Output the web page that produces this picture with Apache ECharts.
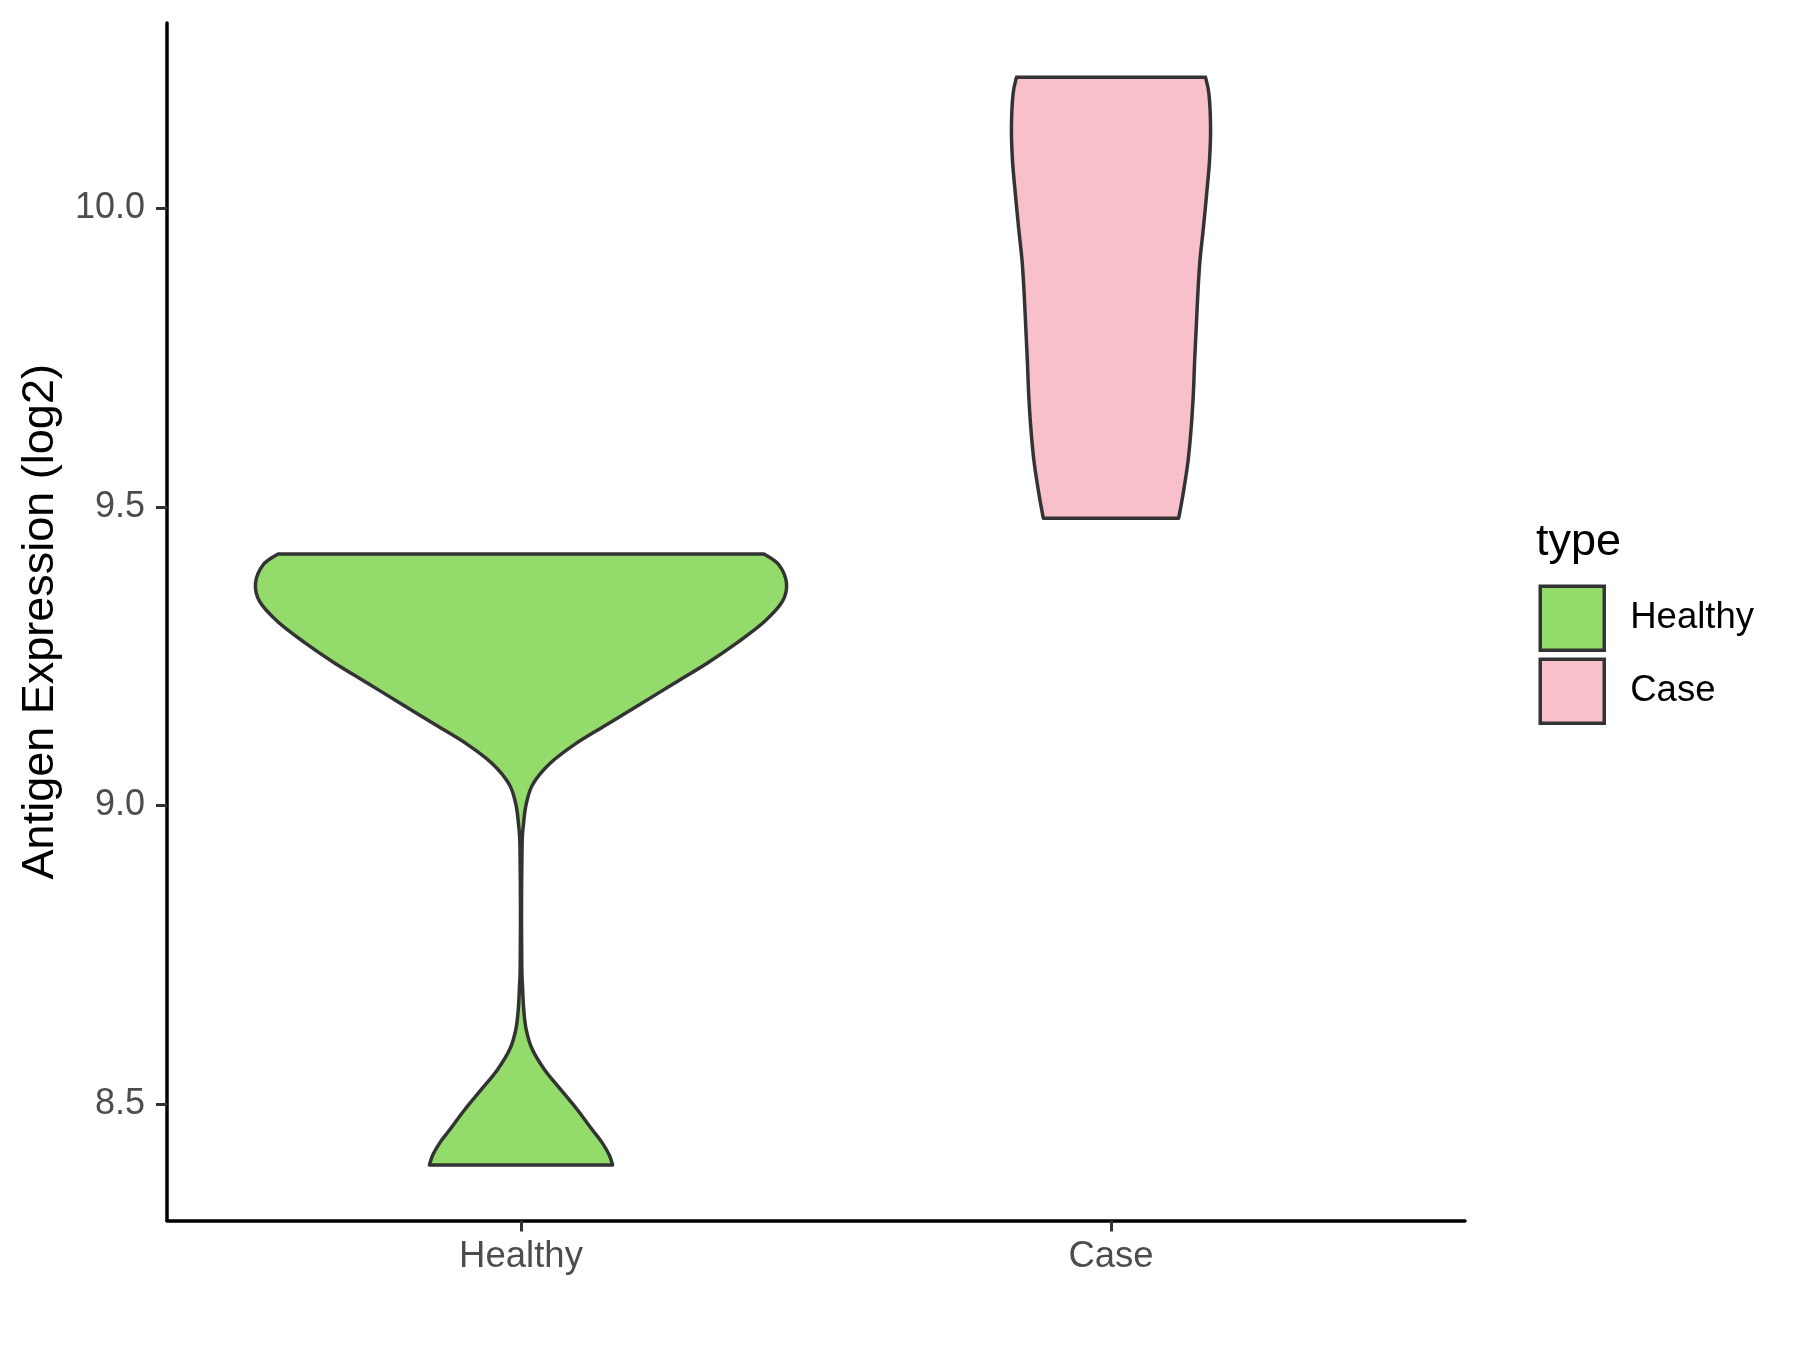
<!DOCTYPE html>
<html>
<head>
<meta charset="utf-8">
<script src="https://cdn.jsdelivr.net/npm/echarts@6/dist/echarts.min.js"></script>
<style>
html,body{margin:0;padding:0;background:#fff;}
#chart{width:1800px;height:1350px;}
</style>
</head>
<body>
<div id="chart"></div>
<script>
// ---- data ----
const categories = ['Healthy', 'Case'];
const yTicks = [8.5, 9.0, 9.5, 10.0];

// violin outline: expression value and relative half-width (1 = widest violin)
const healthyY = [9.421, 9.403, 9.372, 9.341, 9.307, 9.273, 9.239, 9.205, 9.171, 9.137, 9.103, 9.069, 9.035, 9.001, 8.967, 8.933, 8.830, 8.728, 8.694, 8.660, 8.626, 8.592, 8.558, 8.524, 8.490, 8.456, 8.435, 8.415, 8.398];
const healthyDensity = [0.915, 0.971, 1.000, 0.984, 0.915, 0.816, 0.704, 0.579, 0.455, 0.330, 0.205, 0.106, 0.044, 0.019, 0.009, 0.004, 0.002, 0.003, 0.006, 0.010, 0.019, 0.042, 0.088, 0.150, 0.213, 0.270, 0.306, 0.332, 0.345];

const caseY = [10.219, 10.191, 10.135, 10.079, 10.023, 9.967, 9.912, 9.856, 9.800, 9.744, 9.688, 9.632, 9.576, 9.520, 9.481];
const caseDensity = [0.356, 0.369, 0.375, 0.371, 0.360, 0.348, 0.335, 0.327, 0.321, 0.315, 0.310, 0.302, 0.290, 0.271, 0.255];

// ---- styles ----
const fills = { Healthy: '#93DB6A', Case: '#F7C0CB' };
const outline = '#333333';
const halfWidthMax = 0.45; // violin width 0.9 in category units

function smoothPath(pts) {
  let d = '';
  for (let i = 0; i < pts.length - 1; i++) {
    const p0 = pts[Math.max(i - 1, 0)];
    const p1 = pts[i];
    const p2 = pts[i + 1];
    const p3 = pts[Math.min(i + 2, pts.length - 1)];
    const c1x = p1[0] + (p2[0] - p0[0]) / 6;
    const c1y = p1[1] + (p2[1] - p0[1]) / 6;
    const c2x = p2[0] - (p3[0] - p1[0]) / 6;
    const c2y = p2[1] - (p3[1] - p1[1]) / 6;
    d += ' C' + c1x + ' ' + c1y + ' ' + c2x + ' ' + c2y + ' ' + p2[0] + ' ' + p2[1];
  }
  return d;
}

function makeRender(ys, dens, center, name) {
  return function (params, api) {
    const left = ys.map((y, i) => api.coord([center - dens[i] * halfWidthMax, y]));
    const right = ys.map((y, i) => api.coord([center + dens[i] * halfWidthMax, y])).reverse();
    let d = 'M' + left[0][0] + ' ' + left[0][1];
    d += smoothPath(left);
    d += ' L' + right[0][0] + ' ' + right[0][1];
    d += smoothPath(right);
    d += ' Z';
    return {
      type: 'path',
      shape: { pathData: d },
      style: { fill: fills[name], stroke: outline, lineWidth: 3.5, lineJoin: 'round' }
    };
  };
}

const chart = echarts.init(document.getElementById('chart'), null, { renderer: 'canvas' });
const font = 'Liberation Sans, Arial, Helvetica, sans-serif';

chart.setOption({
  animation: false,
  backgroundColor: '#ffffff',
  grid: { left: 167, right: 335, top: 23, bottom: 129.5, containLabel: false, outerBoundsMode: 'none' },
  xAxis: {
    type: 'value', min: 0.4, max: 2.6,
    splitLine: { show: false },
    axisLine: { show: true, onZero: false, lineStyle: { color: '#000', width: 3.5 } },
    axisTick: { show: true, length: 11, customValues: [1, 2], lineStyle: { color: '#333', width: 3 } },
    axisLabel: {
      customValues: [1, 2], margin: 18,
      formatter: v => categories[Math.round(v) - 1],
      fontSize: 36.5, color: '#4D4D4D', fontFamily: font
    }
  },
  yAxis: {
    type: 'value', min: 8.305, max: 10.31,
    name: 'Antigen Expression (log2)', nameLocation: 'middle', nameGap: 104,
    nameTextStyle: { fontSize: 45, color: '#000', fontFamily: font },
    splitLine: { show: false },
    axisLine: { show: true, onZero: false, lineStyle: { color: '#000', width: 3.5 } },
    axisTick: { show: true, length: 11, customValues: yTicks, lineStyle: { color: '#333', width: 3 } },
    axisLabel: {
      customValues: yTicks, margin: 22,
      formatter: v => v.toFixed(1),
      fontSize: 36, color: '#4D4D4D', fontFamily: font
    }
  },
  legend: {
    orient: 'vertical', left: 1538.5, top: 584.5, padding: 0,
    itemWidth: 64, itemHeight: 64, itemGap: 5.5,
    icon: 'rect',
    itemStyle: { borderColor: outline, borderWidth: 3.5 },
    textStyle: { fontSize: 36.5, color: '#000', fontFamily: font, padding: [0, 0, 0, 21] },
    data: categories
  },
  graphic: [{
    type: 'text', left: 1536, top: 520,
    style: { text: 'type', fontSize: 45, fill: '#000', fontFamily: font }
  }],
  series: [
    {
      name: 'Healthy', type: 'custom', data: [[1, 9]],
      itemStyle: { color: fills.Healthy, borderColor: outline, borderWidth: 3.5 },
      renderItem: makeRender(healthyY, healthyDensity, 1, 'Healthy')
    },
    {
      name: 'Case', type: 'custom', data: [[2, 10]],
      itemStyle: { color: fills.Case, borderColor: outline, borderWidth: 3.5 },
      renderItem: makeRender(caseY, caseDensity, 2, 'Case')
    }
  ]
});
</script>
</body>
</html>
